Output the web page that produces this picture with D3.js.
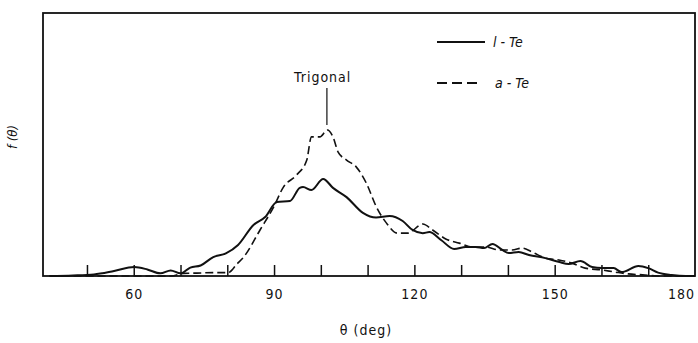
<!DOCTYPE html>
<html>
<head>
<meta charset="utf-8">
<script src="https://cdn.jsdelivr.net/npm/d3@7"></script>
<style>
  body { margin: 0; background: #fff; }
  text { font-family: "DejaVu Sans Condensed", "DejaVu Sans", sans-serif; fill: #111; }
</style>
</head>
<body>
<div id="my_dataviz"></div>
<script>
// angles (deg) and f(theta) in arbitrary units
var thetaL = [42, 47, 51.5, 55.8, 60.1, 62.9, 65.7, 67.9, 70, 72.1, 74.3, 77, 79.7, 82.3, 85.6, 88.1, 90.6, 93.4,
              95.5, 96.2, 98, 100.5, 102.6, 105.5, 109, 111.8, 114.7, 117.5, 119.6, 121.8, 123.2, 125.7, 128.5,
              131, 133.1, 134.9, 136.7, 138.8, 140.2, 142.3, 144.5, 148, 151, 153, 155.5, 158, 160.1, 162.6,
              164.3, 167.9, 170, 172.1, 175, 178, 180];
var fL = [0, 0.02, 0.06, 0.19, 0.34, 0.25, 0.10, 0.21, 0.10, 0.32, 0.40, 0.72, 0.86, 1.18, 1.94, 2.24, 2.81, 2.85,
          3.35, 3.38, 3.27, 3.69, 3.35, 3.00, 2.40, 2.22, 2.28, 2.09, 1.75, 1.63, 1.67, 1.37, 1.03,
          1.10, 1.10, 1.06, 1.22, 0.99, 0.87, 0.91, 0.80, 0.68, 0.53, 0.46, 0.57, 0.34, 0.30, 0.30,
          0.15, 0.38, 0.30, 0.13, 0.04, 0, 0];

var thetaA = [42, 68, 70.6, 73.5, 77.1, 80.2, 82.1, 83.5, 87, 89.9, 92, 94.8, 97, 98, 99.8, 101.4, 102.6, 103.7,
              105.5, 107.6, 109.7, 111.9, 114, 116.4, 118.6, 121.8, 123.9, 126.7, 129.6, 132.4, 135.3, 138.1,
              140.9, 143, 145.2, 148, 150.9, 153.7, 156.5, 160, 162.9, 165.7, 169.3, 172, 180];
var fA = [0, 0, 0.10, 0.11, 0.13, 0.13, 0.46, 0.72, 1.75, 2.62, 3.38, 3.84, 4.41, 5.29, 5.29, 5.55, 5.29, 4.71,
          4.41, 4.14, 3.54, 2.62, 2.02, 1.63, 1.63, 1.98, 1.75, 1.41, 1.25, 1.10, 1.10, 0.99,
          0.99, 1.06, 0.91, 0.68, 0.61, 0.49, 0.30, 0.23, 0.15, 0.08, 0.04, 0, 0];

var minorTicks = [50, 60, 70, 80, 90, 100, 110, 120, 130, 140, 150, 160, 170];
var majorTicks = [60, 90, 120, 150, 180];

var margin = {top: 13, right: 3, bottom: 67, left: 43},
    width = 698 - margin.left - margin.right,
    height = 343 - margin.top - margin.bottom;

var svg = d3.select("#my_dataviz")
  .append("svg")
  .attr("width", 698)
  .attr("height", 343)
  .append("g")
  .attr("transform", "translate(" + margin.left + "," + margin.top + ")");

var x = d3.scaleLinear().domain([40.6, 180]).range([0, width]);
var y = d3.scaleLinear().domain([0, 10]).range([height, 0]);

// frame
svg.append("rect")
  .attr("x", 0).attr("y", 0)
  .attr("width", width).attr("height", height)
  .style("fill", "none")
  .style("stroke", "#111")
  .style("stroke-width", 1.8);

// inward ticks on the baseline
svg.append("g")
  .attr("transform", "translate(0," + height + ")")
  .call(d3.axisTop(x).tickValues(minorTicks).tickSize(11).tickFormat(""))
  .call(function(g) { g.select(".domain").remove(); })
  .selectAll("line").style("stroke", "#111").style("stroke-width", 1.5);

// tick labels
var lab = svg.append("g")
  .attr("transform", "translate(0," + height + ")")
  .call(d3.axisBottom(x).tickValues(majorTicks).tickSize(0).tickPadding(13))
  .call(function(g) { g.select(".domain").remove(); });
lab.selectAll("text")
  .style("font-size", "14px")
  .style("letter-spacing", "1px")
  .attr("dx", function(d) { return d === 180 ? -14 : 0; });

// curves
var line = d3.line().curve(d3.curveMonotoneX);

svg.append("path")
  .attr("d", line(thetaL.map(function(t, i) { return [x(t), y(fL[i])]; })))
  .style("fill", "none")
  .style("stroke", "#111")
  .style("stroke-width", 2);

svg.append("path")
  .attr("d", line(thetaA.map(function(t, i) { return [x(t), y(fA[i])]; })))
  .style("fill", "none")
  .style("stroke", "#111")
  .style("stroke-width", 1.6)
  .style("stroke-dasharray", "8,4");

// annotation
svg.append("text")
  .attr("x", x(100.4)).attr("y", 69)
  .attr("text-anchor", "middle")
  .style("font-size", "14px")
  .style("letter-spacing", "1px")
  .text("Trigonal");
svg.append("line")
  .attr("x1", x(101.3)).attr("x2", x(101.3))
  .attr("y1", 75).attr("y2", 112)
  .style("stroke", "#111").style("stroke-width", 1.2);

// legend
var legend = [{name: "l - Te", dash: null, yy: 29}, {name: "a - Te", dash: "10,5", yy: 70}];
legend.forEach(function(d) {
  svg.append("line")
    .attr("x1", 394).attr("x2", d.dash ? 436 : 442)
    .attr("y1", d.yy).attr("y2", d.yy)
    .style("stroke", "#111").style("stroke-width", 2)
    .style("stroke-dasharray", d.dash);
  svg.append("text")
    .attr("x", d.dash ? 452 : 450).attr("y", d.yy + 5)
    .style("font-size", "14px")
    .style("font-style", "italic")
    .text(d.name);
});

// axis titles
svg.append("text")
  .attr("transform", "translate(-26," + 124 + ") rotate(-90)")
  .attr("text-anchor", "middle")
  .style("font-size", "13px")
  .style("font-style", "italic")
  .text("f (θ)");

svg.append("text")
  .attr("x", 323).attr("y", 322)
  .attr("text-anchor", "middle")
  .style("font-size", "14px")
  .style("letter-spacing", "1px")
  .text("θ  (deg)");
</script>
</body>
</html>
